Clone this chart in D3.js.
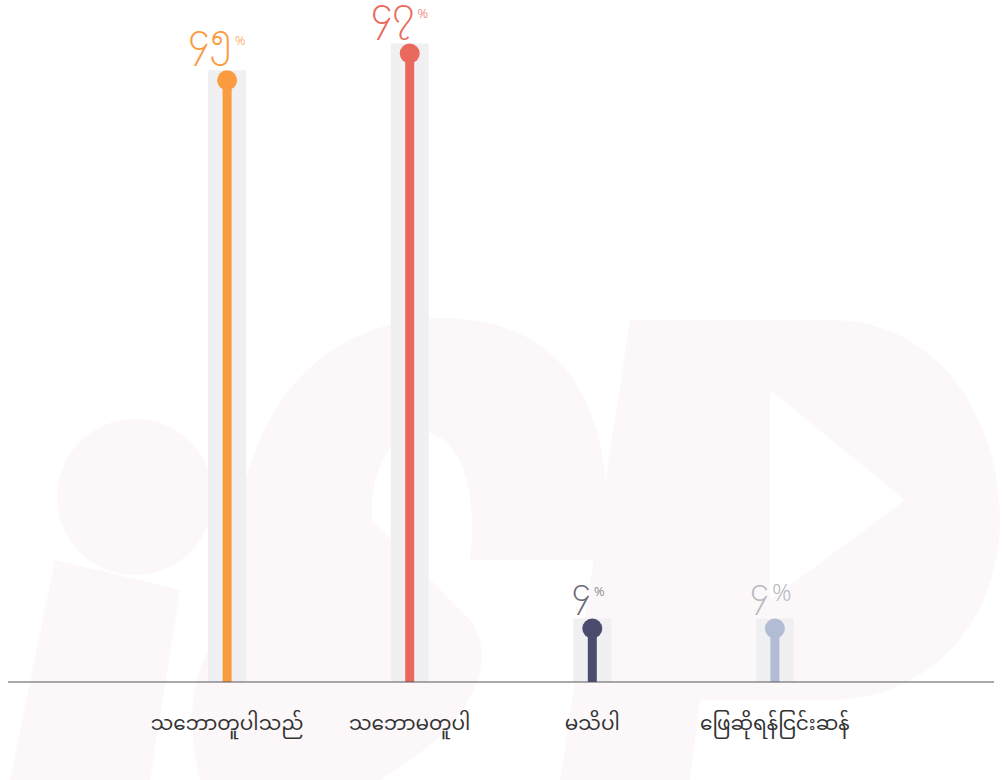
<!DOCTYPE html>
<html>
<head>
<meta charset="utf-8">
<script src="https://cdn.jsdelivr.net/npm/d3@7"></script>
<style>
  body { margin: 0; background: #fff; }
  text { font-family: "Noto Sans Myanmar", "Noto Sans", "DejaVu Sans", sans-serif; }
</style>
</head>
<body>
<div id="chart"></div>
<script>
const categories = ["သဘောတူပါသည်", "သဘောမတူပါ", "မသိပါ", "ဖြေဆိုရန်ငြင်းဆန်"];
const values = [45, 47, 4, 4];
const valueLabels = ["၄၅", "၄၇", "၄", "၄"];
const colors = ["#fa9b3f", "#e96a5d", "#4b4c6d", "#b2bcd5"];
const labelColors = ["#fa9b3f", "#e96a5d", "#6b6b73", "#b9b9bf"];

const svgWidth = 1004;
const svgHeight = 780;
const baseline = 682;

const svg = d3.select("#chart")
  .append("svg")
  .attr("width", svgWidth)
  .attr("height", svgHeight);

// faint watermark logo
const wm = svg.append("g").attr("fill", "#fcf8fa");
wm.append("circle").attr("cx", 135).attr("cy", 497).attr("r", 78);
wm.append("path").attr("d", "M55,560 L180,590 L150,780 L10,780 Z");
wm.append("path").attr("d", "M235,560 C240,400 330,320 440,318 C560,318 620,400 605,560 L470,560 C480,470 450,430 420,432 C390,434 370,470 372,520 L470,620 C500,660 470,720 410,760 L380,780 L200,780 C180,700 200,640 240,620 Z");
wm.append("path").attr("d", "M630,320 L830,320 C940,320 1000,420 1000,520 C1000,620 930,700 830,700 L700,700 L690,780 L560,780 Z M770,390 L770,600 L905,500 Z").attr("fill-rule", "evenodd");

const x = d3.scalePoint()
  .domain(categories)
  .range([8, 994])
  .padding(1.2);

const y = d3.scaleLinear()
  .domain([0, 51])
  .range([baseline, 0]);

const data = categories.map((c, i) => ({ cat: c, value: values[i], label: valueLabels[i], color: colors[i], lc: labelColors[i], i: i }));

const r = 10;

// grey backing bars
svg.selectAll("rect.bg")
  .data(data)
  .enter()
  .append("rect")
  .attr("class", "bg")
  .attr("x", d => x(d.cat) - 19)
  .attr("width", 38)
  .attr("y", d => y(d.value) - r)
  .attr("height", d => baseline - y(d.value) + r)
  .attr("fill", "#f0f0f3");

// stems
svg.selectAll("line.stem")
  .data(data)
  .enter()
  .append("line")
  .attr("x1", d => x(d.cat))
  .attr("x2", d => x(d.cat))
  .attr("y1", d => y(d.value))
  .attr("y2", baseline)
  .attr("stroke", d => d.color)
  .attr("stroke-width", 9);

svg.selectAll("circle.dot")
  .data(data)
  .enter()
  .append("circle")
  .attr("cx", d => x(d.cat))
  .attr("cy", d => y(d.value))
  .attr("r", r)
  .attr("fill", d => d.color);

// axis baseline
svg.append("line")
  .attr("x1", 8).attr("x2", 994)
  .attr("y1", baseline).attr("y2", baseline)
  .attr("stroke", "#55555a")
  .attr("stroke-width", 1.2);

// value labels
const vl = svg.selectAll("text.val")
  .data(data)
  .enter()
  .append("text")
  .attr("class", "val")
  .attr("x", d => x(d.cat) - (d.value > 10 ? 10 : 4))
  .attr("y", d => y(d.value) - (d.value > 10 ? 30 : 28))
  .attr("text-anchor", "middle")
  .attr("fill", d => d.lc)
  .style("font-size", d => d.value > 10 ? "34px" : "30px")
  .style("font-weight", 300);
vl.append("tspan").text(d => d.label);
vl.append("tspan")
  .attr("dx", 3)
  .attr("dy", d => d.i === 3 ? 0 : -5)
  .style("font-size", d => d.i === 3 ? "24px" : "13px")
  .text("%");

// category labels
svg.selectAll("text.cat")
  .data(data)
  .enter()
  .append("text")
  .attr("class", "cat")
  .attr("x", d => x(d.cat))
  .attr("y", 730)
  .attr("text-anchor", "middle")
  .attr("fill", "#333")
  .style("font-size", "20px")
  .text(d => d.cat);
</script>
</body>
</html>
